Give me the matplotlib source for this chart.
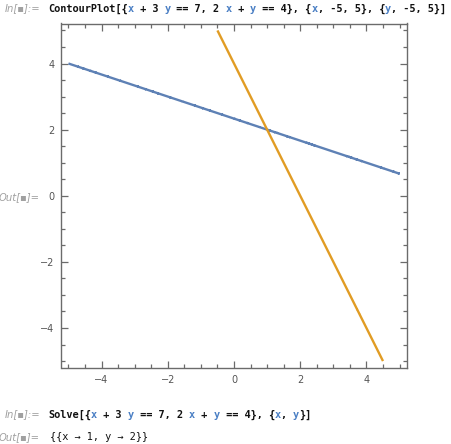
import numpy as np
import matplotlib
matplotlib.use("Agg")
import matplotlib.pyplot as plt
from matplotlib.ticker import MultipleLocator

# Equations a*x + b*y = c
eq_a = [1, 2]
eq_b = [3, 1]
eq_c = [7, 4]
line_colors = ["#5E81B5", "#E19C24"]
x_range = [-5, 5]
y_range = [-5, 5]
major_ticks = [-4, -2, 0, 2, 4]
tick_labels = ["\u22124", "\u22122", "0", "2", "4"]

W, H = 451, 444
fig = plt.figure(figsize=(W / 100, H / 100), dpi=100)
fig.patch.set_facecolor("white")

L, R, T, B = 61.5, 406.5, 23.5, 368
ax = fig.add_axes([L / W, 1 - B / H, (R - L) / W, (B - T) / H])

xs = np.linspace(x_range[0], x_range[1], 401)
ys = np.linspace(y_range[0], y_range[1], 401)
X, Y = np.meshgrid(xs, ys)
for a, b, c, col in zip(eq_a, eq_b, eq_c, line_colors):
    ax.contour(X, Y, a * X + b * Y - c, levels=[0], colors=[col], linewidths=1.7)

pad = 0.21
ax.set_xlim(x_range[0] - pad, x_range[1] + pad)
ax.set_ylim(y_range[0] - pad, y_range[1] + pad)
ax.set_xticks(major_ticks)
ax.set_yticks(major_ticks)
ax.xaxis.set_minor_locator(MultipleLocator(0.5))
ax.yaxis.set_minor_locator(MultipleLocator(0.5))
frame_col = "#6b6b6b"
for s in ax.spines.values():
    s.set_color(frame_col)
    s.set_linewidth(1.0)
ax.tick_params(which="both", direction="in", top=True, right=True, color=frame_col,
               labelsize=7, labelcolor="#555555", width=0.9)
ax.tick_params(which="major", length=5, pad=5)
ax.tick_params(which="minor", length=3)
ax.tick_params(axis="x", labeltop=False)
ax.tick_params(axis="y", labelright=False)
ax.set_xticklabels(tick_labels)
ax.set_yticklabels(tick_labels)


def px(x, y):
    return x / W, 1 - y / H


label_kw = dict(fontsize=7.2, color="#a0a0a0", style="italic", ha="right", va="baseline",
                family="DejaVu Sans")
fig.text(*px(40, 11), "In[\u25aa]:=", **label_kw)
fig.text(*px(40, 200), "Out[\u25aa]=", **label_kw)
fig.text(*px(40, 417), "In[\u25aa]:=", **label_kw)
fig.text(*px(40, 440), "Out[\u25aa]=", **label_kw)

VAR = "#4a7fc4"
BLK = "#111111"


def chain_ann(x, y, pieces, weight="bold", size=7.4, family="DejaVu Sans Mono"):
    prev = fig.text(*px(x, y), pieces[0][0], color=pieces[0][1], fontsize=size,
                    weight=weight, family=family, va="baseline", ha="left")
    for s, c in pieces[1:]:
        prev = plt.annotate(s, xy=(1, 0), xycoords=prev, va="bottom", ha="left",
                            color=c, fontsize=size, weight=weight, family=family,
                            annotation_clip=False)
    return prev


def split_vars(text):
    out = []
    for ch in text:
        col = VAR if ch in "xy" else BLK
        if out and out[-1][1] == col:
            out[-1][0] += ch
        else:
            out.append([ch, col])
    return [tuple(p) for p in out]


chain_ann(48, 12, split_vars("ContourPlot[{x + 3 y == 7, 2 x + y == 4}, {x, -5, 5}, {y, -5, 5}]"))
chain_ann(48, 418, split_vars("Solve[{x + 3 y == 7, 2 x + y == 4}, {x, y}]"))
chain_ann(50, 440, [("{{x \u2192 1, y \u2192 2}}", BLK)], weight="normal")

fig.savefig("out.png", dpi=100, facecolor="white")
